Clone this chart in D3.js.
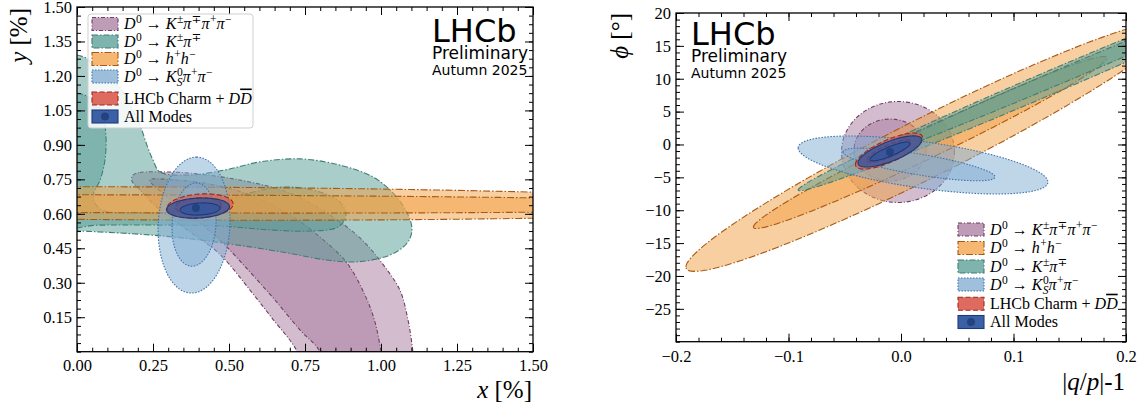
<!DOCTYPE html>
<html lang="en">
<head>
<meta charset="UTF-8">
<title>LHCb charm mixing contours</title>
<script src="https://cdn.jsdelivr.net/npm/d3@7/dist/d3.min.js"></script>
<style>
    body { margin: 0; background: #fff; }
    svg text { font-family: "Liberation Serif", "DejaVu Serif", serif; fill: #000; }
    .tick text { font-size: 16.5px; }
    .tick line { stroke: #000; stroke-width: 1; }
    .lhcb { font-family: "DejaVu Sans", sans-serif; }
    .leg { font-size: 16px; }
    .title { font-size: 25px; }
</style>
</head>
<body>
<svg id="chart"></svg>
<script>
// ---------- ticks ----------
var xTicksXY = [0, 0.25, 0.5, 0.75, 1.0, 1.25, 1.5]
var xLabelsXY = ['0.00', '0.25', '0.50', '0.75', '1.00', '1.25', '1.50']
var yTicksXY = [0.15, 0.3, 0.45, 0.6, 0.75, 0.9, 1.05, 1.2, 1.35, 1.5]
var yLabelsXY = ['0.15', '0.30', '0.45', '0.60', '0.75', '0.90', '1.05', '1.20', '1.35', '1.50']
var xTicksQP = [-0.2, -0.1, 0, 0.1, 0.2]
var xLabelsQP = ['−0.2', '−0.1', '0.0', '0.1', '0.2']
var yTicksQP = [20, 15, 10, 5, 0, -5, -10, -15, -20, -25]
var yLabelsQP = ['20', '15', '10', '5', '0', '−5', '−10', '−15', '−20', '−25']

// ---------- contours in the (x, y) plane [%] ----------
// ellipses: [cx, cy, ax, ay, bx, by] -> centre and two conjugate half axes
// polygons: outline points
var xyK3piOuter = [[0.184, 0.768], [0.207, 0.780], [0.300, 0.782], [0.372, 0.777], [0.536, 0.747], [0.701, 0.690],
    [0.832, 0.595], [0.931, 0.495], [1.003, 0.386], [1.062, 0.268], [1.089, 0.137], [1.105, 0.0], [1.112, -0.1],
    [0.740, -0.1], [0.724, 0.0], [0.641, 0.147], [0.569, 0.268], [0.497, 0.386], [0.454, 0.443], [0.372, 0.521],
    [0.273, 0.617], [0.207, 0.704], [0.180, 0.745]]
var xyK3piInner = [[0.240, 0.747], [0.322, 0.747], [0.437, 0.729], [0.569, 0.682], [0.701, 0.595], [0.799, 0.499],
    [0.888, 0.386], [0.947, 0.247], [0.980, 0.130], [1.0, 0.0], [1.012, -0.1], [0.810, -0.1], [0.799, 0.0],
    [0.734, 0.094], [0.651, 0.225], [0.569, 0.347], [0.470, 0.486], [0.372, 0.595], [0.289, 0.682]]
var xyKpiOuter = [[-0.12, 1.27], [0, 1.291], [0.076, 1.239], [0.135, 1.161], [0.174, 1.074], [0.207, 0.987],
    [0.230, 0.899], [0.250, 0.834], [0.273, 0.782], [0.372, 0.769], [0.487, 0.791], [0.602, 0.826], [0.734, 0.839],
    [0.865, 0.812], [0.974, 0.760], [1.039, 0.691], [1.086, 0.604], [1.102, 0.530], [1.086, 0.473], [1.030, 0.421],
    [0.921, 0.391], [0.822, 0.399], [0.691, 0.430], [0.569, 0.456], [0.405, 0.486], [0.240, 0.508], [0.076, 0.521],
    [0, 0.525], [-0.12, 0.525]]
var xyKpiInner = [[-0.12, 1.139], [0, 1.126], [0.049, 1.100], [0.082, 1.043], [0.095, 0.943], [0.092, 0.834],
    [0.076, 0.747], [0.053, 0.677], [0.076, 0.621], [0.207, 0.604], [0.339, 0.612], [0.454, 0.643], [0.569, 0.691],
    [0.684, 0.717], [0.799, 0.695], [0.865, 0.651], [0.885, 0.595], [0.859, 0.543], [0.766, 0.525], [0.635, 0.530],
    [0.470, 0.547], [0.273, 0.551], [0.076, 0.551], [-0.12, 0.551]]
var xyHhOuter = [0.3, 0.645, 1.96, -0.012, 0, 0.0718]
var xyHhInner = [0.3, 0.643, 2.0, -0.008, 0, 0.039]
var xyKsOuter = [0.385, 0.551, 0.0082, 0.296, 0.118, 0]
var xyKsInner = [0.385, 0.553, 0.0066, 0.181, 0.072, 0]
var xyCharmOuter = [0.405, 0.634, 0.1086, 0.0087, 0, 0.0522]
var xyCharmInner = [0.400, 0.632, 0.075, 0.004, 0, 0.037]
var xyAllOuter = [0.398, 0.625, 0.1036, 0.0065, 0, 0.0435]
var xyAllInner = [0.405, 0.621, 0.0658, 0.0044, 0, 0.0261]
var xyBest = [0.391, 0.625]

// ---------- contours in the (|q/p|-1, phi) plane ----------
var qpK3piOuter = [-0.0027, -1.14, 0.0502, 0, 0, 7.68]
var qpK3piInner = [-0.0098, -0.84, 0.032, 0, 0, 4.71]
var qpHhOuter = [0.0258, -0.23, -0.217, -18.4, 0, 5.02]
var qpHhInner = [0.0258, 0.30, -0.157, -12.85, 0, 2.43]
var qpKpiOuter = [0.1316, 9.35, -0.223, -16.27, 0, 1.9]
var qpKpiInner = [0.159, 11.63, -0.2, -14.45, 0, 1.17]
var qpKsOuter = [0.0196, -3.12, -0.111, 2.59, 0, 3.57]
var qpKsInner = [0.016, -3.04, -0.0676, 1.90, 0, 1.6]
var qpCharmOuter = [-0.0107, -1.0, -0.0298, -2.05, 0, 1.83]
var qpCharmInner = [-0.0107, -1.0, -0.0196, -1.37, 0, 1.0]
var qpAllOuter = [-0.0098, -1.06, -0.0284, -1.75, 0, 1.6]
var qpAllInner = [-0.0098, -1.06, -0.0178, -1.22, 0, 0.76]
var qpBest = [-0.0098, -1.14]

// ---------- legend labels ----------
var labelK3pi = [['D', 'i'], ['0', 'sup'], [' → ', 'r'], ['K', 'i'], ['±', 'sup'], ['π', 'i'], ['∓', 'sup'], ['π', 'i'], ['+', 'sup'], ['π', 'i'], ['−', 'sup']]
var labelKpi = [['D', 'i'], ['0', 'sup'], [' → ', 'r'], ['K', 'i'], ['±', 'sup'], ['π', 'i'], ['∓', 'sup']]
var labelHh = [['D', 'i'], ['0', 'sup'], [' → ', 'r'], ['h', 'i'], ['+', 'sup'], ['h', 'i'], ['−', 'sup']]
var labelKs = [['D', 'i'], ['0', 'sup'], [' → ', 'r'], ['K', 'i'], ['0', 'sup'], ['S', 'sub'], ['π', 'i'], ['+', 'sup'], ['π', 'i'], ['−', 'sup']]
var labelCharm = [['LHCb Charm + ', 'r'], ['D', 'i'], ['D', 'io']]
var labelAll = [['All Modes', 'r']]

var modeStyle = {
    K3pi: {fill: '#a87a9e', edge: '#6e3f66', dash: '4,2,1,2', alpha: 0.5},
    Kpi: {fill: '#539b91', edge: '#3d7f78', dash: '6,2,1.5,2', alpha: 0.5},
    hh: {fill: '#f19f41', edge: '#a85a14', dash: '7,2,1.5,2', alpha: 0.5},
    Ks: {fill: '#7fabd1', edge: '#3f74ad', dash: '1.5,1.5', alpha: 0.5},
    charm: {fill: '#d9574a', edge: '#a5261d', dash: '5,2.5', alpha: 0.65},
    all: {fill: '#2f55a0', edge: '#1f3a78', dash: null, alpha: 0.75}
}

var W = 1146, H = 410
var svg = d3.select('#chart').attr('width', W).attr('height', H)
svg.append('rect').attr('width', W).attr('height', H).attr('fill', '#fff')

function ellipsePoints(p) {
    return d3.range(0, 360, 3).map(function (deg) {
        var t = deg * Math.PI / 180
        return [p[0] + p[2] * Math.cos(t) + p[4] * Math.sin(t), p[1] + p[3] * Math.cos(t) + p[5] * Math.sin(t)]
    })
}

function addText(sel, segs) {
    var shift = 0
    segs.forEach(function (s) {
        var target = s[1] === 'sup' ? -6 : (s[1] === 'sub' ? 4 : 0)
        var ts = sel.append('tspan').text(s[0]).attr('dy', target - shift)
        shift = target
        if (s[1] === 'sup' || s[1] === 'sub') ts.style('font-size', '11.5px')
        if (s[1] === 'sup') ts.attr('dx', 0.5)
        if (s[1] === 'sub') ts.attr('dx', -6).style('font-style', 'italic')
        if (s[1] === 'i' || s[1] === 'io') ts.style('font-style', 'italic')
        if (s[1] === 'io') ts.style('text-decoration', 'overline')
    })
}

function drawPanel(p) {
    var xr = p.x.range(), yr = p.y.range()
    var g = svg.append('g')
    g.append('clipPath').attr('id', p.id + '-clip').append('rect')
        .attr('x', xr[0]).attr('y', yr[1]).attr('width', xr[1] - xr[0]).attr('height', yr[0] - yr[1])
    var plot = g.append('g').attr('clip-path', 'url(#' + p.id + '-clip)')

    var line = d3.line().x(function (d) { return p.x(d[0]) }).y(function (d) { return p.y(d[1]) })

    p.layers.forEach(function (L) {
        var st = modeStyle[L.mode]
        ;[L.outer, L.inner].forEach(function (shape) {
            var isPoly = Array.isArray(shape[0])
            var pts = isPoly ? shape : ellipsePoints(shape)
            plot.append('path')
                .attr('d', line.curve(isPoly ? d3.curveCatmullRomClosed.alpha(0.5) : d3.curveLinearClosed)(pts))
                .attr('fill', st.fill).attr('fill-opacity', st.alpha)
                .attr('stroke', st.edge).attr('stroke-width', 1.1)
                .attr('stroke-dasharray', st.dash)
        })
    })
    plot.append('circle').attr('cx', p.x(p.best[0])).attr('cy', p.y(p.best[1])).attr('r', 4)
        .attr('fill', '#23427f')

    // axes, ticks inward on all sides
    function clean(s) { s.select('.domain').remove() }
    var fmtX = function (d, i) { return p.xLabels[i] }
    var fmtY = function (d, i) { return p.yLabels[i] }
    g.append('g').attr('transform', 'translate(0,' + yr[0] + ')')
        .call(d3.axisBottom(p.x).tickValues(p.xTicks).tickFormat(fmtX).tickSize(-8).tickSizeOuter(0).tickPadding(p.xPad)).call(clean)
    g.append('g').attr('transform', 'translate(0,' + yr[0] + ')')
        .call(d3.axisBottom(p.x).tickValues(p.xMinor).tickFormat('').tickSize(-4).tickSizeOuter(0)).call(clean)
    g.append('g').attr('transform', 'translate(0,' + yr[1] + ')')
        .call(d3.axisTop(p.x).tickValues(p.xTicks).tickFormat('').tickSize(-8).tickSizeOuter(0)).call(clean)
    g.append('g').attr('transform', 'translate(0,' + yr[1] + ')')
        .call(d3.axisTop(p.x).tickValues(p.xMinor).tickFormat('').tickSize(-4).tickSizeOuter(0)).call(clean)
    g.append('g').attr('transform', 'translate(' + xr[0] + ',0)')
        .call(d3.axisLeft(p.y).tickValues(p.yTicks).tickFormat(fmtY).tickSize(-8).tickSizeOuter(0).tickPadding(5)).call(clean)
    g.append('g').attr('transform', 'translate(' + xr[0] + ',0)')
        .call(d3.axisLeft(p.y).tickValues(p.yMinor).tickFormat('').tickSize(-4).tickSizeOuter(0)).call(clean)
    g.append('g').attr('transform', 'translate(' + xr[1] + ',0)')
        .call(d3.axisRight(p.y).tickValues(p.yTicks).tickFormat('').tickSize(-8).tickSizeOuter(0)).call(clean)
    g.append('g').attr('transform', 'translate(' + xr[1] + ',0)')
        .call(d3.axisRight(p.y).tickValues(p.yMinor).tickFormat('').tickSize(-4).tickSizeOuter(0)).call(clean)

    g.append('rect').attr('x', xr[0]).attr('y', yr[1]).attr('width', xr[1] - xr[0]).attr('height', yr[0] - yr[1])
        .attr('fill', 'none').attr('stroke', '#000').attr('stroke-width', 1.3)

    // axis titles
    var yt = g.append('text').attr('class', 'title').attr('text-anchor', 'end')
        .attr('transform', 'translate(' + p.yTitlePos[0] + ',' + p.yTitlePos[1] + ') rotate(-90)')
    addText(yt, p.yTitle)
    var xt = g.append('text').attr('class', 'title').attr('text-anchor', 'end')
        .attr('x', p.xTitlePos[0]).attr('y', p.xTitlePos[1])
    addText(xt, p.xTitle)

    // LHCb label
    var lx = p.lhcbPos[0], ly = p.lhcbPos[1]
    g.append('text').attr('class', 'lhcb').attr('x', lx).attr('y', ly).style('font-size', '32px').text('LHCb')
    g.append('text').attr('class', 'lhcb').attr('x', lx).attr('y', ly + 17).style('font-size', '17px').text('Preliminary')
    g.append('text').attr('class', 'lhcb').attr('x', lx).attr('y', ly + 33).style('font-size', '14px').text('Autumn 2025')

    // legend
    var lg = p.legend
    if (lg.box) {
        g.append('rect').attr('x', lg.box[0]).attr('y', lg.box[1]).attr('width', lg.box[2]).attr('height', lg.box[3])
            .attr('rx', 3).attr('fill', '#fff').attr('fill-opacity', 0.85).attr('stroke', '#cfcfcf')
    }
    p.layers.forEach(function (L, i) {
        var st = modeStyle[L.mode]
        var cy = lg.rows[i]
        g.append('rect').attr('x', lg.x).attr('y', cy - 6.5).attr('width', 26).attr('height', 13)
            .attr('fill', st.fill).attr('fill-opacity', 1 - (1 - st.alpha) * (1 - st.alpha))
            .attr('stroke', st.edge).attr('stroke-width', 1.1).attr('stroke-dasharray', st.dash)
        if (L.mode === 'all') {
            g.append('circle').attr('cx', lg.x + 13).attr('cy', cy).attr('r', 4).attr('fill', '#23427f')
        }
        var t = g.append('text').attr('class', 'leg').attr('x', lg.x + 32).attr('y', cy + 5)
        addText(t, L.label)
    })
}

var xyMinorX = d3.range(0, 1.5001, 0.05)
var xyMinorY = d3.range(0, 1.5001, 0.0375)
var qpMinorX = d3.range(-0.2, 0.2001, 0.02)
var qpMinorY = d3.range(-30, 20.01, 1)

drawPanel({
    id: 'xy',
    x: d3.scaleLinear().domain([0, 1.5]).range([77, 533]),
    y: d3.scaleLinear().domain([0, 1.5]).range([351.7, 7]),
    xTicks: xTicksXY, xLabels: xLabelsXY, yTicks: yTicksXY, yLabels: yLabelsXY,
    xMinor: xyMinorX, yMinor: xyMinorY, xPad: 8,
    layers: [
        {mode: 'K3pi', outer: xyK3piOuter, inner: xyK3piInner, label: labelK3pi},
        {mode: 'Kpi', outer: xyKpiOuter, inner: xyKpiInner, label: labelKpi},
        {mode: 'hh', outer: xyHhOuter, inner: xyHhInner, label: labelHh},
        {mode: 'Ks', outer: xyKsOuter, inner: xyKsInner, label: labelKs},
        {mode: 'charm', outer: xyCharmOuter, inner: xyCharmInner, label: labelCharm},
        {mode: 'all', outer: xyAllOuter, inner: xyAllInner, label: labelAll}
    ],
    best: xyBest,
    yTitle: [['y', 'i'], [' [%]', 'r']], yTitlePos: [27, 8],
    xTitle: [['x', 'i'], [' [%]', 'r']], xTitlePos: [532, 398],
    lhcbPos: [432, 42],
    legend: {box: [88, 14, 165, 114], x: 92, rows: [24, 41.5, 59, 76.5, 98.5, 116.5]}
})

drawPanel({
    id: 'qp',
    x: d3.scaleLinear().domain([-0.2, 0.2]).range([676, 1126]),
    y: d3.scaleLinear().domain([-30, 20]).range([341.7, 13]),
    xTicks: xTicksQP, xLabels: xLabelsQP, yTicks: yTicksQP, yLabels: yLabelsQP,
    xMinor: qpMinorX, yMinor: qpMinorY, xPad: 9,
    layers: [
        {mode: 'K3pi', outer: qpK3piOuter, inner: qpK3piInner, label: labelK3pi},
        {mode: 'hh', outer: qpHhOuter, inner: qpHhInner, label: labelHh},
        {mode: 'Kpi', outer: qpKpiOuter, inner: qpKpiInner, label: labelKpi},
        {mode: 'Ks', outer: qpKsOuter, inner: qpKsInner, label: labelKs},
        {mode: 'charm', outer: qpCharmOuter, inner: qpCharmInner, label: labelCharm},
        {mode: 'all', outer: qpAllOuter, inner: qpAllInner, label: labelAll}
    ],
    best: qpBest,
    yTitle: [['ϕ', 'i'], [' [°]', 'r']], yTitlePos: [628, 13],
    xTitle: [['|', 'r'], ['q', 'i'], ['/', 'r'], ['p', 'i'], ['|-1', 'r']], xTitlePos: [1125, 390],
    lhcbPos: [691, 45],
    legend: {box: null, x: 958, rows: [229.5, 248, 266.5, 284.5, 303.7, 322]}
})
</script>
</body>
</html>
